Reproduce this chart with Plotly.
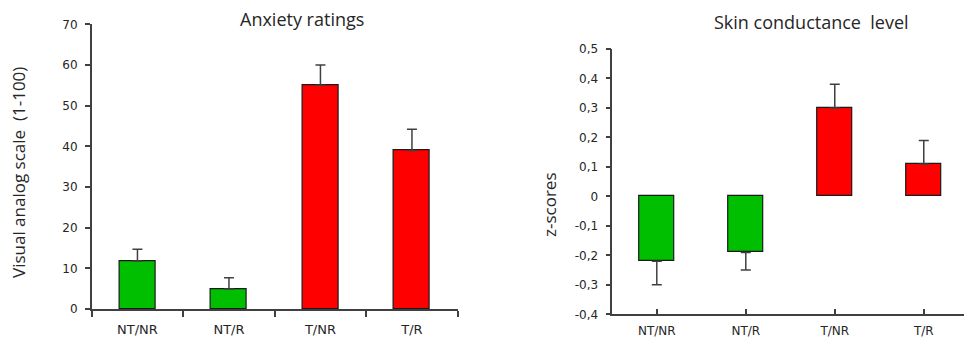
import plotly.graph_objects as go

# Conditions shared by both panels
categories = ["NT/NR", "NT/R", "T/NR", "T/R"]
bar_colors = ["#00BE00", "#00BE00", "#FF0000", "#FF0000"]

# Anxiety ratings (visual analog scale) with upper error
anxiety_mean = [11.8, 4.9, 55.0, 39.0]
anxiety_err = [2.9, 2.8, 5.0, 5.2]

# Skin conductance level (z-scores) with error pointing away from zero
scl_mean = [-0.22, -0.19, 0.30, 0.11]
scl_err_up = [0.0, 0.0, 0.08, 0.08]
scl_err_down = [0.08, 0.06, 0.0, 0.0]

scl_ticks = [0.5, 0.4, 0.3, 0.2, 0.1, 0.0, -0.1, -0.2, -0.3, -0.4]
scl_ticktext = ["0,5", "0,4", "0,3", "0,2", "0,1", "0", "-0,1", "-0,2", "-0,3", "-0,4"]

AXIS = "#404040"
TEXT = "#262626"
TICKFONT = dict(family="DejaVu Sans", size=12, color=TEXT)
TITLEFONT = dict(family="Open Sans", size=18, color=TEXT)
YTITLEFONT = dict(family="Open Sans", size=17, color=TEXT)

W, H = 964, 340
left_x = [91.7 / W, 457.7 / W]
left_y = [(H - 309) / H, (H - 24.3) / H]
right_x = [612.3 / W, 1.0]
right_y = [(H - 314.3) / H, (H - 49) / H]

fig = go.Figure()

fig.add_trace(go.Bar(
    x=categories, y=anxiety_mean, width=0.39,
    marker=dict(color=bar_colors, line=dict(color="#1a1a1a", width=1.2)),
    error_y=dict(type="data", symmetric=False, array=anxiety_err,
                 arrayminus=[0] * len(categories), color=AXIS, thickness=1.5, width=5),
    xaxis="x", yaxis="y", showlegend=False,
))

fig.add_trace(go.Bar(
    x=list(range(len(categories))), y=scl_mean, width=0.4,
    marker=dict(color=bar_colors, line=dict(color="#1a1a1a", width=1.2)),
    error_y=dict(type="data", symmetric=False, array=scl_err_up,
                 arrayminus=scl_err_down, color=AXIS, thickness=1.5, width=5),
    xaxis="x2", yaxis="y2", showlegend=False,
))

# y position of the zero line inside the right panel (paper fraction)
y_lo, y_hi = -0.4, 0.5
zero_pos = right_y[0] + (0 - y_lo) / (y_hi - y_lo) * (right_y[1] - right_y[0])

common = dict(showline=True, linecolor=AXIS, linewidth=1.5, tickcolor=AXIS, tickwidth=1.5,
              showgrid=False, zeroline=False, automargin=False)

fig.update_layout(
    width=W, height=H,
    margin=dict(l=0, r=0, t=0, b=0, autoexpand=False),
    paper_bgcolor="white", plot_bgcolor="white",
    bargap=0,
    xaxis=dict(domain=left_x, anchor="y", type="category", range=[-0.5, 3.5],
               tickson="boundaries", ticks="outside", ticklen=6, ticklabelstandoff=8,
               tickfont=dict(TICKFONT, size=13), **common),
    yaxis=dict(domain=left_y, anchor="x", range=[0, 70], dtick=10,
               ticks="outside", ticklen=5, tickfont=TICKFONT, ticklabelstandoff=5, **common),
    xaxis2=dict(domain=right_x, anchor="y2", range=[-0.5, 3.452],
                tickmode="array", tickvals=[0, 1, 2, 3], ticktext=categories,
                ticks="inside", ticklen=6, ticklabelstandoff=5, tickfont=TICKFONT, **common),
    xaxis3=dict(overlaying="x2", anchor="free", position=zero_pos,
                range=[-0.5, 3.452], tickmode="array", tickvals=[0.5, 1.5, 2.5],
                showticklabels=False, ticks="outside", ticklen=6, **common),
    yaxis2=dict(domain=right_y, anchor="x2", range=[y_lo, y_hi],
                tickmode="array", tickvals=scl_ticks, ticktext=scl_ticktext,
                ticks="outside", ticklen=5, tickfont=TICKFONT, ticklabelstandoff=5, **common),
    annotations=[
        dict(text="Anxiety ratings", x=301.7 / W, y=1 - 19 / H, xref="paper", yref="paper",
             showarrow=False, font=TITLEFONT, xanchor="center", yanchor="middle"),
        dict(text="Skin conductance  level", x=811 / W, y=1 - 22 / H, xref="paper", yref="paper",
             showarrow=False, font=TITLEFONT, xanchor="center", yanchor="middle"),
        dict(text="Visual analog scale  (1-100)", x=18 / W, y=1 - 173 / H, xref="paper", yref="paper",
             showarrow=False, textangle=-90, font=YTITLEFONT,
             xanchor="center", yanchor="middle"),
        dict(text="z-scores", x=549 / W, y=1 - 205 / H, xref="paper", yref="paper",
             showarrow=False, textangle=-90, font=YTITLEFONT,
             xanchor="center", yanchor="middle"),
    ],
)

fig.write_html("out.html")
